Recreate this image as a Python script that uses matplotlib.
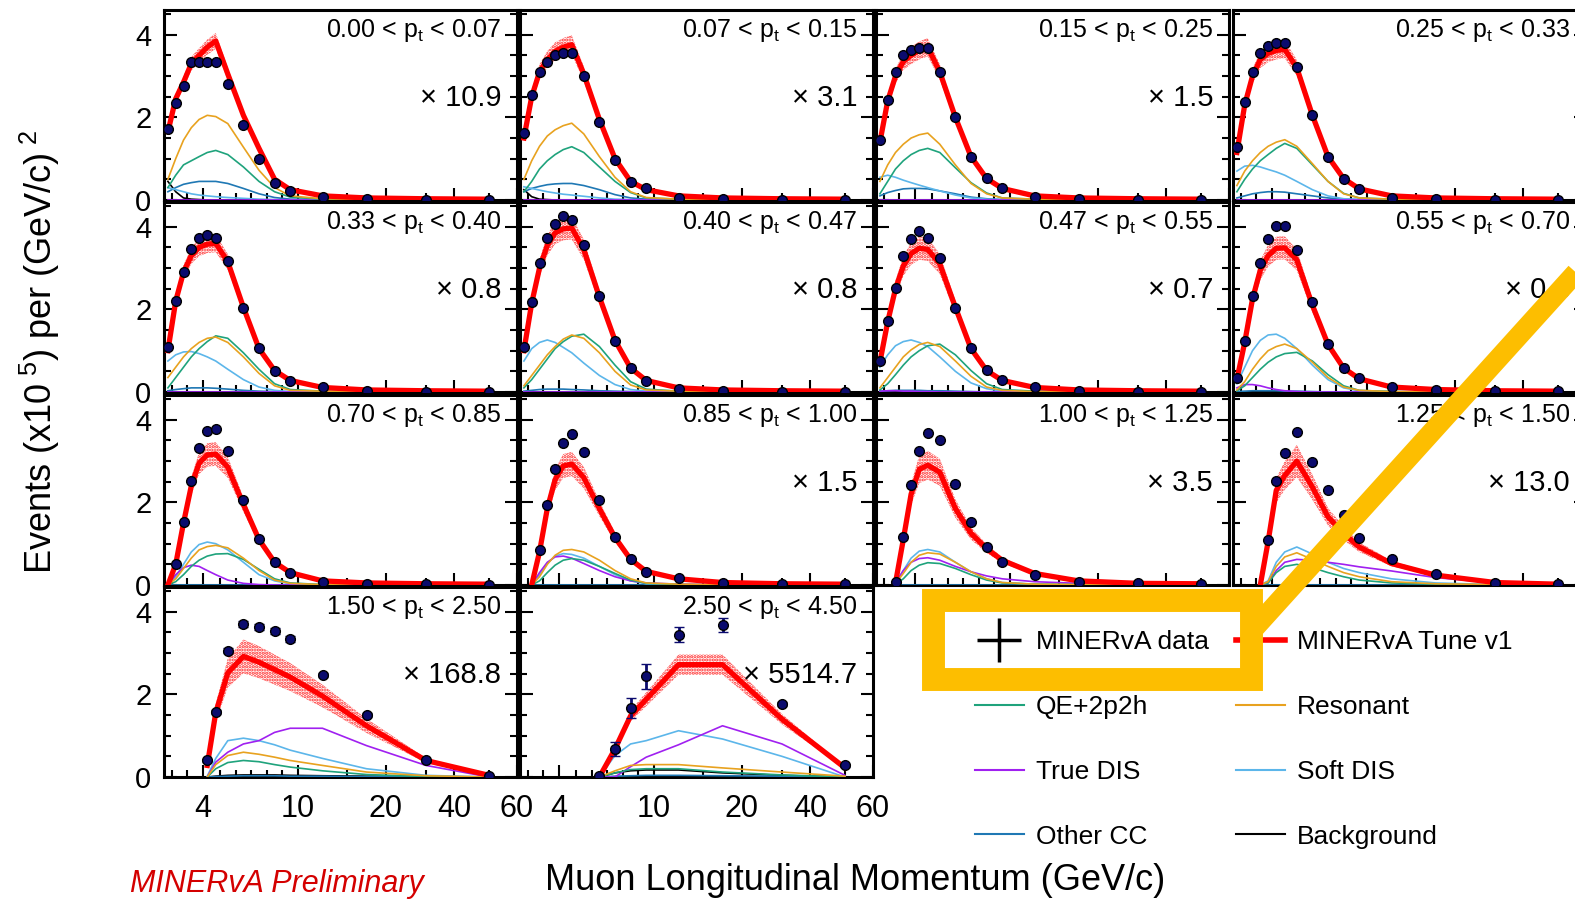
import numpy as np
import matplotlib
matplotlib.use('Agg')
import matplotlib.pyplot as plt
from matplotlib.lines import Line2D
from matplotlib.patches import Rectangle

plt.rcParams['font.family'] = ['Liberation Sans', 'DejaVu Sans']
plt.rcParams['mathtext.fontset'] = 'custom'
plt.rcParams['mathtext.rm'] = 'Liberation Sans'
plt.rcParams['mathtext.it'] = 'Liberation Sans:italic'
plt.rcParams['hatch.linewidth'] = 1.6

nan = np.nan

# muon longitudinal momentum bin centres (GeV/c)
pz = [1.75, 2.25, 2.75, 3.25, 3.75, 4.25, 4.75, 5.5, 6.5, 7.5, 8.5, 9.5, 12.5, 17.5, 30, 50]

pt_edges = ['0.00', '0.07', '0.15', '0.25', '0.33', '0.40', '0.47', '0.55', '0.70',
            '0.85', '1.00', '1.25', '1.50', '2.50', '4.50']
scale_text = ['10.9', '3.1', '1.5', None, '0.8', '0.8', '0.7', '0.8', None,
              '1.5', '3.5', '13.0', '168.8', '5514.7']
band_frac = [0.05, 0.06, 0.06, 0.06, 0.06, 0.07, 0.08, 0.08, 0.09, 0.10, 0.12, 0.13, 0.14, 0.09]

# data points, one row per pt bin (x10^5 per (GeV/c)^2, already scaled)
data = [
    [1.73, 2.36, 2.77, 3.33, 3.33, 3.33, 3.33, 2.82, 1.81, 1.00, 0.41, 0.22, 0.07, 0.02, 0.01, 0.01],
    [1.62, 2.55, 3.09, 3.35, 3.50, 3.57, 3.55, 2.99, 1.90, 0.97, 0.44, 0.28, 0.06, 0.02, 0.01, 0.01],
    [1.45, 2.42, 3.11, 3.52, 3.64, 3.68, 3.68, 3.11, 2.02, 1.05, 0.53, 0.28, 0.08, 0.02, 0.01, 0.01],
    [1.29, 2.37, 3.09, 3.57, 3.73, 3.81, 3.79, 3.23, 2.05, 1.04, 0.52, 0.26, 0.06, 0.02, 0.01, 0.01],
    [1.08, 2.20, 2.91, 3.45, 3.74, 3.81, 3.73, 3.16, 2.04, 1.06, 0.51, 0.27, 0.11, 0.03, 0.01, 0.01],
    [1.08, 2.18, 3.12, 3.73, 4.06, 4.25, 4.17, 3.57, 2.32, 1.24, 0.59, 0.27, 0.07, 0.03, 0.01, 0.01],
    [0.75, 1.73, 2.52, 3.30, 3.70, 3.89, 3.73, 3.25, 2.04, 1.06, 0.53, 0.30, 0.11, 0.03, 0.01, 0.01],
    [0.33, 1.24, 2.32, 3.12, 3.70, 4.01, 4.01, 3.43, 2.18, 1.16, 0.57, 0.33, 0.11, 0.06, 0.03, 0.03],
    [nan, 0.51, 1.53, 2.53, 3.32, 3.72, 3.78, 3.24, 2.06, 1.12, 0.56, 0.30, 0.08, 0.02, 0.02, 0.01],
    [nan, nan, 0.84, 1.93, 2.81, 3.45, 3.65, 3.23, 2.06, 1.16, 0.64, 0.32, 0.16, 0.04, 0.02, 0.02],
    [nan, nan, 0.08, 1.16, 2.41, 3.25, 3.67, 3.51, 2.45, 1.53, 0.92, 0.56, 0.24, 0.08, 0.04, 0.03],
    [nan, nan, nan, nan, 1.08, 2.51, 3.19, 3.71, 2.99, 2.31, 1.70, 1.15, 0.64, 0.27, 0.04, 0.02],
    [nan, nan, nan, nan, nan, 0.40, 1.58, 3.06, 3.70, 3.64, 3.54, 3.34, 2.48, 1.50, 0.40, 0.02],
    [nan, nan, nan, nan, nan, nan, nan, nan, 0.02, 0.68, 1.68, 2.44, 3.44, 3.68, 1.76, 0.28],
]
data_err13 = [nan, nan, nan, nan, nan, 0.04, 0.05, 0.06, 0.07, 0.07, 0.07, 0.07, 0.05, 0.05, 0.03, 0.02]
data_err14 = [nan, nan, nan, nan, nan, nan, nan, nan, 0.03, 0.16, 0.24, 0.30, 0.18, 0.16, 0.05, 0.04]

# MINERvA Tune v1 total
tune = [
    [1.65, 2.45, 2.85, 3.30, 3.50, 3.70, 3.85, 3.05, 2.05, 1.25, 0.50, 0.25, 0.10, 0.05, 0.03, 0.02],
    [1.50, 2.50, 3.10, 3.40, 3.60, 3.70, 3.76, 3.05, 1.95, 1.00, 0.45, 0.25, 0.10, 0.05, 0.03, 0.02],
    [1.40, 2.40, 3.00, 3.35, 3.50, 3.62, 3.70, 3.10, 2.00, 1.05, 0.52, 0.28, 0.10, 0.05, 0.03, 0.02],
    [1.15, 2.30, 3.00, 3.40, 3.55, 3.62, 3.65, 3.20, 2.05, 1.05, 0.52, 0.27, 0.10, 0.05, 0.03, 0.02],
    [1.00, 2.20, 2.90, 3.30, 3.50, 3.58, 3.60, 3.15, 2.05, 1.05, 0.52, 0.28, 0.11, 0.05, 0.03, 0.02],
    [1.00, 2.15, 3.00, 3.55, 3.85, 3.95, 3.97, 3.45, 2.30, 1.25, 0.58, 0.28, 0.10, 0.05, 0.03, 0.02],
    [0.72, 1.70, 2.50, 3.05, 3.35, 3.48, 3.45, 3.10, 2.05, 1.05, 0.52, 0.28, 0.11, 0.05, 0.03, 0.02],
    [0.30, 1.20, 2.25, 2.95, 3.30, 3.48, 3.49, 3.20, 2.10, 1.15, 0.58, 0.32, 0.12, 0.06, 0.03, 0.02],
    [0.00, 0.50, 1.50, 2.40, 2.95, 3.15, 3.17, 2.85, 1.95, 1.10, 0.55, 0.30, 0.10, 0.05, 0.03, 0.02],
    [nan, 0.00, 0.80, 1.85, 2.55, 2.88, 2.93, 2.60, 1.85, 1.15, 0.62, 0.33, 0.15, 0.06, 0.03, 0.02],
    [nan, nan, 0.05, 1.10, 2.20, 2.80, 2.90, 2.73, 1.85, 1.25, 0.88, 0.60, 0.28, 0.10, 0.04, 0.03],
    [nan, nan, nan, 0.00, 1.05, 2.29, 2.65, 3.00, 2.37, 1.65, 1.25, 0.92, 0.52, 0.24, 0.06, 0.02],
    [nan, nan, nan, nan, nan, 0.28, 1.56, 2.52, 2.92, 2.78, 2.60, 2.42, 1.96, 1.24, 0.40, 0.04],
    [nan, nan, nan, nan, nan, nan, nan, nan, 0.00, 0.68, 1.48, 1.88, 2.72, 2.72, 1.40, 0.22],
]

qe = [
    [0.30, 0.60, 0.85, 0.95, 1.05, 1.15, 1.20, 1.10, 0.80, 0.45, 0.20, 0.07, 0.02, 0.01, 0.00, 0.00],
    [0.20, 0.45, 0.75, 0.95, 1.10, 1.22, 1.29, 1.15, 0.80, 0.45, 0.18, 0.05, 0.02, 0.01, 0.00, 0.00],
    [0.15, 0.45, 0.75, 0.95, 1.10, 1.20, 1.25, 1.15, 0.78, 0.42, 0.17, 0.05, 0.02, 0.01, 0.00, 0.00],
    [0.20, 0.50, 0.75, 0.95, 1.10, 1.25, 1.37, 1.25, 0.85, 0.45, 0.16, 0.05, 0.02, 0.01, 0.00, 0.00],
    [0.10, 0.35, 0.60, 0.85, 1.05, 1.22, 1.36, 1.30, 0.95, 0.55, 0.20, 0.06, 0.02, 0.01, 0.00, 0.00],
    [0.10, 0.30, 0.55, 0.80, 1.05, 1.22, 1.35, 1.40, 1.10, 0.65, 0.25, 0.07, 0.02, 0.01, 0.00, 0.00],
    [0.05, 0.20, 0.42, 0.65, 0.85, 1.00, 1.12, 1.16, 0.90, 0.52, 0.20, 0.06, 0.02, 0.01, 0.00, 0.00],
    [0.03, 0.15, 0.35, 0.55, 0.72, 0.85, 0.93, 0.96, 0.75, 0.42, 0.15, 0.04, 0.01, 0.00, 0.00, 0.00],
    [0.00, 0.08, 0.25, 0.45, 0.60, 0.70, 0.75, 0.76, 0.62, 0.38, 0.15, 0.05, 0.01, 0.00, 0.00, 0.00],
    [nan, 0.00, 0.10, 0.30, 0.48, 0.60, 0.64, 0.60, 0.45, 0.28, 0.12, 0.04, 0.01, 0.00, 0.00, 0.00],
    [nan, nan, 0.02, 0.15, 0.35, 0.48, 0.54, 0.52, 0.40, 0.25, 0.12, 0.05, 0.02, 0.01, 0.00, 0.00],
    [nan, nan, nan, 0.00, 0.05, 0.30, 0.45, 0.50, 0.42, 0.30, 0.20, 0.12, 0.05, 0.02, 0.00, 0.00],
    [nan, nan, nan, nan, nan, 0.00, 0.20, 0.35, 0.40, 0.37, 0.30, 0.24, 0.15, 0.06, 0.01, 0.00],
    [nan, nan, nan, nan, nan, nan, nan, nan, 0.00, 0.10, 0.18, 0.20, 0.20, 0.12, 0.05, 0.00],
]

resonant = [
    [0.50, 1.00, 1.45, 1.75, 1.95, 2.05, 2.02, 1.85, 1.28, 0.72, 0.30, 0.10, 0.03, 0.01, 0.00, 0.00],
    [0.50, 0.95, 1.30, 1.55, 1.70, 1.80, 1.86, 1.60, 1.05, 0.55, 0.20, 0.06, 0.02, 0.01, 0.00, 0.00],
    [0.45, 0.85, 1.15, 1.35, 1.50, 1.58, 1.62, 1.35, 0.85, 0.40, 0.15, 0.05, 0.02, 0.01, 0.00, 0.00],
    [0.35, 0.70, 0.95, 1.15, 1.30, 1.40, 1.46, 1.30, 0.88, 0.45, 0.15, 0.05, 0.02, 0.01, 0.00, 0.00],
    [0.35, 0.60, 0.85, 1.05, 1.20, 1.30, 1.33, 1.20, 0.85, 0.45, 0.15, 0.04, 0.02, 0.01, 0.00, 0.00],
    [0.15, 0.40, 0.65, 0.90, 1.10, 1.28, 1.38, 1.30, 0.95, 0.50, 0.17, 0.05, 0.02, 0.01, 0.00, 0.00],
    [0.10, 0.35, 0.60, 0.85, 1.02, 1.15, 1.20, 1.10, 0.75, 0.38, 0.12, 0.04, 0.01, 0.00, 0.00, 0.00],
    [0.05, 0.25, 0.55, 0.80, 1.00, 1.10, 1.16, 1.05, 0.72, 0.35, 0.12, 0.04, 0.01, 0.00, 0.00, 0.00],
    [0.00, 0.15, 0.40, 0.65, 0.85, 0.93, 0.96, 0.90, 0.65, 0.35, 0.12, 0.04, 0.01, 0.00, 0.00, 0.00],
    [nan, 0.00, 0.20, 0.50, 0.72, 0.84, 0.86, 0.80, 0.60, 0.35, 0.15, 0.05, 0.02, 0.01, 0.00, 0.00],
    [nan, nan, 0.03, 0.28, 0.55, 0.72, 0.78, 0.75, 0.55, 0.32, 0.15, 0.06, 0.02, 0.01, 0.00, 0.00],
    [nan, nan, nan, 0.00, 0.08, 0.45, 0.68, 0.78, 0.62, 0.45, 0.30, 0.20, 0.08, 0.03, 0.01, 0.00],
    [nan, nan, nan, nan, nan, 0.00, 0.30, 0.52, 0.60, 0.55, 0.48, 0.40, 0.28, 0.12, 0.03, 0.00],
    [nan, nan, nan, nan, nan, nan, nan, nan, 0.00, 0.15, 0.28, 0.30, 0.30, 0.22, 0.12, 0.02],
]

true_dis = [
    [0.00] * 16,
    [0.00] * 16,
    [0.00] * 16,
    [0.00] * 16,
    [0.00] * 16,
    [0.00] * 16,
    [0.02, 0.03, 0.03, 0.02, 0.02, 0.01, 0.01, 0.00, 0.00, 0.00, 0.00, 0.00, 0.00, 0.00, 0.00, 0.00],
    [0.10, 0.18, 0.18, 0.15, 0.10, 0.06, 0.03, 0.01, 0.00, 0.00, 0.00, 0.00, 0.00, 0.00, 0.00, 0.00],
    [0.00, 0.25, 0.42, 0.48, 0.45, 0.35, 0.25, 0.12, 0.04, 0.01, 0.00, 0.00, 0.00, 0.00, 0.00, 0.00],
    [nan, 0.00, 0.30, 0.55, 0.68, 0.70, 0.65, 0.52, 0.35, 0.20, 0.10, 0.05, 0.02, 0.01, 0.00, 0.00],
    [nan, nan, 0.05, 0.35, 0.55, 0.64, 0.66, 0.60, 0.45, 0.32, 0.22, 0.15, 0.08, 0.04, 0.02, 0.01],
    [nan, nan, nan, 0.00, 0.05, 0.35, 0.55, 0.62, 0.60, 0.55, 0.50, 0.44, 0.34, 0.18, 0.05, 0.01],
    [nan, nan, nan, nan, nan, 0.00, 0.36, 0.60, 0.80, 0.88, 1.08, 1.18, 1.18, 0.76, 0.28, 0.00],
    [nan, nan, nan, nan, nan, nan, nan, nan, 0.00, 0.00, 0.25, 0.48, 0.78, 1.24, 0.80, 0.04],
]

soft_dis = [
    [0.30, 0.25, 0.20, 0.15, 0.12, 0.10, 0.08, 0.06, 0.04, 0.02, 0.01, 0.00, 0.00, 0.00, 0.00, 0.00],
    [0.32, 0.28, 0.24, 0.20, 0.17, 0.14, 0.12, 0.09, 0.05, 0.02, 0.01, 0.00, 0.00, 0.00, 0.00, 0.00],
    [0.55, 0.60, 0.55, 0.48, 0.42, 0.36, 0.30, 0.22, 0.12, 0.05, 0.02, 0.01, 0.00, 0.00, 0.00, 0.00],
    [0.70, 0.82, 0.84, 0.80, 0.74, 0.68, 0.60, 0.45, 0.25, 0.10, 0.03, 0.01, 0.00, 0.00, 0.00, 0.00],
    [0.75, 0.90, 0.97, 0.98, 0.93, 0.85, 0.75, 0.55, 0.30, 0.12, 0.04, 0.01, 0.00, 0.00, 0.00, 0.00],
    [0.75, 1.05, 1.20, 1.26, 1.20, 1.08, 0.95, 0.70, 0.40, 0.18, 0.06, 0.02, 0.00, 0.00, 0.00, 0.00],
    [0.60, 0.90, 1.12, 1.22, 1.26, 1.20, 1.10, 0.85, 0.50, 0.22, 0.08, 0.02, 0.01, 0.00, 0.00, 0.00],
    [0.20, 0.60, 1.00, 1.25, 1.38, 1.40, 1.30, 1.05, 0.65, 0.30, 0.10, 0.03, 0.01, 0.00, 0.00, 0.00],
    [0.00, 0.20, 0.50, 0.80, 0.98, 1.04, 1.00, 0.85, 0.55, 0.25, 0.10, 0.03, 0.01, 0.00, 0.00, 0.00],
    [nan, 0.00, 0.25, 0.52, 0.70, 0.76, 0.74, 0.65, 0.45, 0.25, 0.10, 0.03, 0.01, 0.00, 0.00, 0.00],
    [nan, nan, 0.05, 0.35, 0.65, 0.82, 0.86, 0.80, 0.55, 0.32, 0.15, 0.06, 0.02, 0.01, 0.00, 0.00],
    [nan, nan, nan, 0.00, 0.10, 0.55, 0.80, 0.92, 0.75, 0.55, 0.40, 0.30, 0.15, 0.05, 0.01, 0.00],
    [nan, nan, nan, nan, nan, 0.02, 0.45, 0.88, 0.94, 0.88, 0.78, 0.65, 0.45, 0.20, 0.04, 0.00],
    [nan, nan, nan, nan, nan, nan, nan, nan, 0.00, 0.52, 0.80, 0.88, 1.12, 0.92, 0.50, 0.00],
]

other_cc = [
    [0.20, 0.30, 0.38, 0.42, 0.45, 0.45, 0.45, 0.40, 0.28, 0.15, 0.06, 0.02, 0.01, 0.00, 0.00, 0.00],
    [0.20, 0.28, 0.33, 0.37, 0.39, 0.40, 0.40, 0.35, 0.25, 0.13, 0.05, 0.02, 0.01, 0.00, 0.00, 0.00],
    [0.10, 0.18, 0.23, 0.27, 0.28, 0.28, 0.27, 0.22, 0.15, 0.07, 0.03, 0.01, 0.00, 0.00, 0.00, 0.00],
    [0.05, 0.10, 0.15, 0.18, 0.20, 0.20, 0.19, 0.15, 0.10, 0.05, 0.02, 0.01, 0.00, 0.00, 0.00, 0.00],
    [0.03, 0.06, 0.08, 0.10, 0.10, 0.10, 0.09, 0.07, 0.04, 0.02, 0.01, 0.00, 0.00, 0.00, 0.00, 0.00],
    [0.02, 0.04, 0.06, 0.07, 0.07, 0.07, 0.06, 0.05, 0.03, 0.02, 0.01, 0.00, 0.00, 0.00, 0.00, 0.00],
    [0.02, 0.03, 0.04, 0.04, 0.04, 0.04, 0.03, 0.03, 0.02, 0.01, 0.00, 0.00, 0.00, 0.00, 0.00, 0.00],
    [0.01, 0.02, 0.03, 0.03, 0.03, 0.03, 0.02, 0.02, 0.01, 0.00, 0.00, 0.00, 0.00, 0.00, 0.00, 0.00],
    [0.00] * 16,
    [nan] + [0.00] * 15,
    [nan, nan] + [0.00] * 14,
    [nan, nan, nan] + [0.00] * 13,
    [nan, nan, nan, nan, nan, 0.00, 0.01, 0.02, 0.03, 0.03, 0.03, 0.02, 0.02, 0.01, 0.00, 0.00],
    [nan, nan, nan, nan, nan, nan, nan, nan, 0.00, 0.02, 0.03, 0.04, 0.04, 0.03, 0.02, 0.00],
]

background = [
    [0.45, 0.20, 0.05, 0.02, 0.01, 0.00, 0.00, 0.00, 0.00, 0.00, 0.00, 0.00, 0.00, 0.00, 0.00, 0.00],
    [0.25, 0.08, 0.02, 0.01, 0.00, 0.00, 0.00, 0.00, 0.00, 0.00, 0.00, 0.00, 0.00, 0.00, 0.00, 0.00],
    [0.00] * 16,
    [0.00] * 16,
    [0.00] * 16,
    [0.00] * 16,
    [0.00] * 16,
    [0.00] * 16,
    [0.00] * 16,
    [nan] + [0.00] * 15,
    [nan, nan] + [0.00] * 14,
    [nan, nan, nan] + [0.00] * 13,
    [nan, nan, nan, nan, nan, 0.00, 0.02, 0.04, 0.05, 0.05, 0.05, 0.04, 0.03, 0.02, 0.01, 0.00],
    [nan, nan, nan, nan, nan, nan, nan, nan, 0.00, 0.10, 0.15, 0.17, 0.17, 0.10, 0.04, 0.00],
]

c_qe = '#1fa37c'
c_res = '#e8a21f'
c_dis = '#a020f0'
c_soft = '#5cb6ea'
c_other = '#1f78b4'
c_bkg = 'black'
c_tune = '#ff0000'
c_data = '#0b0b6e'
c_yellow = '#fdbe00'

# the x axis of the original is stretched at low momentum, not log
scale_vals = [1.5, 4, 5, 10, 15, 20, 30, 40, 50, 60]
scale_pos = [0, 39, 56, 134, 183, 222, 262, 290, 325, 353]

def fwd(x):
    return np.interp(x, scale_vals, scale_pos)

def inv(y):
    return np.interp(y, scale_pos, scale_vals)

W, H = 1575, 901
fig = plt.figure(figsize=(W / 100, H / 100), dpi=100)

col_left = [164, 520, 876, 1233]
row_top = [10, 202, 395, 587]
pw, ph = 353, 190

for i in range(14):
    r, c = divmod(i, 4)
    ax = fig.add_axes([col_left[c] / W, 1 - (row_top[r] + ph) / H, pw / W, ph / H])
    ax.set_xscale('function', functions=(fwd, inv))

    mc = np.array(tune[i])
    lo = mc * (1 - band_frac[i])
    hi = mc * (1 + band_frac[i])
    ax.fill_between(pz, lo, hi, facecolor='none', edgecolor='#ff2a2a', hatch='.....',
                    linewidth=0, zorder=2)

    for comp, col in [(background, c_bkg), (other_cc, c_other), (soft_dis, c_soft),
                      (true_dis, c_dis), (qe, c_qe), (resonant, c_res)]:
        ax.plot(pz, comp[i], color=col, lw=1.2, zorder=3)

    ax.plot(pz, mc, color=c_tune, lw=3.8, zorder=4)

    err = None
    if i == 12:
        err = data_err13
    elif i == 13:
        err = data_err14
    ax.errorbar(pz, data[i], yerr=err, fmt='o', ms=7, mfc=c_data, mec='black', mew=1.0,
                ecolor=c_data, elinewidth=2, capsize=3.5, capthick=2, zorder=5)

    ax.set_xlim(1.5, 60)
    ax.set_ylim(0, 4.6)
    ax.set_xticks([4, 10, 20, 40, 60])
    ax.set_xticklabels(['4', '10', '20', '40', '60'])
    ax.set_xticks([2, 3, 5, 6, 7, 8, 9, 15, 30, 50], minor=True)
    ax.set_xticklabels([], minor=True)
    ax.set_yticks([0, 2, 4])
    ax.set_yticks(np.arange(0, 4.6, 0.5), minor=True)
    ax.tick_params(which='both', direction='in', right=True, top=False, width=1.5,
                   labelleft=(c == 0), labelbottom=(r == 3))
    ax.tick_params(which='major', length=9)
    ax.tick_params(which='minor', length=5)
    ax.tick_params(axis='x', pad=12, labelsize=22)
    ax.tick_params(axis='y', pad=9, labelsize=21)
    for sp in ax.spines.values():
        sp.set_linewidth(2.2)

    label = pt_edges[i] + r' < p$_{\mathrm{t}}$ < ' + pt_edges[i + 1]
    ax.text(0.955, 0.858, label, transform=ax.transAxes, ha='right', va='baseline',
            fontsize=18, zorder=6)
    if scale_text[i] is not None:
        ax.text(0.955, 0.495, '\u00d7 ' + scale_text[i], transform=ax.transAxes,
                ha='right', va='baseline', fontsize=21, zorder=6)

# legend, filled column by column
handles = [
    Line2D([], [], color='black', marker='+', markersize=32, mew=2.5, linestyle='none'),
    Line2D([], [], color=c_qe, lw=1.5),
    Line2D([], [], color=c_dis, lw=1.5),
    Line2D([], [], color=c_other, lw=1.5),
    Line2D([], [], color=c_tune, lw=4),
    Line2D([], [], color=c_res, lw=1.5),
    Line2D([], [], color=c_soft, lw=1.5),
    Line2D([], [], color=c_bkg, lw=1.5),
]
labels = ['MINERvA data', 'QE+2p2h', 'True DIS', 'Other CC',
          'MINERvA Tune v1', 'Resonant', 'Soft DIS', 'Background']
fig.legend(handles, labels, ncol=2, loc='upper left', bbox_to_anchor=(975 / W, 1 - 630 / H),
           frameon=False, fontsize=19, handlelength=1.85, handletextpad=0.45,
           columnspacing=1.05, labelspacing=1.55, borderpad=0, borderaxespad=0)

# highlight box and pointer line
fig.add_artist(Rectangle((933 / W, 1 - 679 / H), (1251 - 933) / W, (679 - 599.5) / H,
                         transform=fig.transFigure, fill=False, edgecolor=c_yellow,
                         linewidth=16.5, joinstyle='miter', zorder=10))
fig.add_artist(Line2D([1251 / W, 1600 / W], [1 - 632 / H, 1 - 246 / H],
                      transform=fig.transFigure, color=c_yellow, lw=14.5,
                      solid_capstyle='butt', zorder=10))

fig.text(855 / W, 1 - 880 / H, 'Muon Longitudinal Momentum (GeV/c)', ha='center',
         va='center', fontsize=26)
fig.text(40 / W, 1 - 352 / H, r'Events (x10$^{\ 5}$) per (GeV/c)$^{\ 2}$', rotation=90,
         ha='center', va='center', fontsize=26)
fig.text(130 / W, 1 - 892 / H, 'MINERvA Preliminary', color='#d40000', style='italic',
         fontsize=22, va='baseline')

plt.savefig('out.png', dpi=100)
plt.close()
